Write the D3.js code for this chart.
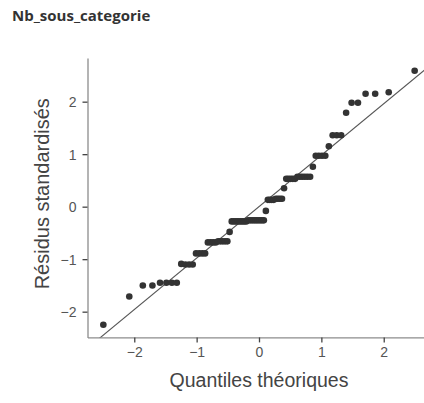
<!DOCTYPE html>
<html>
<head>
<meta charset="utf-8">
<script src="https://cdn.jsdelivr.net/npm/d3@7/dist/d3.min.js"></script>
<style>
  html, body { margin: 0; padding: 0; background: #fff; }
  svg { display: block; }
</style>
</head>
<body>
<script>
// Normal Q-Q plot of standardized residuals for Nb_sous_categorie
const chartTitle = "Nb_sous_categorie";
const xLabel = "Quantiles théoriques";
const yLabel = "Résidus standardisés";

// Theoretical quantiles (x) and standardized residuals (y)
const theoretical = [
  -2.496, -2.080, -1.863, -1.709, -1.587, -1.485, -1.397, -1.318,
  -1.247, -1.181, -1.120, -1.063, -1.010, -0.959, -0.910, -0.864,
  -0.820, -0.776, -0.735, -0.694, -0.655, -0.616, -0.579, -0.543,
  -0.507, -0.471, -0.437, -0.402, -0.369, -0.335, -0.302, -0.270,
  -0.237, -0.205, -0.174, -0.142, -0.110, -0.078, -0.047, -0.016,
   0.016,  0.047,  0.078,  0.110,  0.142,  0.174,  0.205,  0.237,
   0.270,  0.302,  0.335,  0.369,  0.402,  0.437,  0.471,  0.507,
   0.543,  0.579,  0.616,  0.655,  0.694,  0.735,  0.776,  0.820,
   0.864,  0.910,  0.959,  1.010,  1.063,  1.120,  1.181,  1.247,
   1.318,  1.397,  1.485,  1.587,  1.709,  1.863,  2.080,  2.496
];
const residuals = [
  -2.25, -1.71, -1.50, -1.50, -1.45, -1.45, -1.45, -1.45,
  -1.09, -1.10, -1.10, -1.10, -0.89, -0.89, -0.89, -0.89,
  -0.68, -0.68, -0.68, -0.68, -0.66, -0.66, -0.66, -0.66,
  -0.66, -0.48, -0.28, -0.28, -0.28, -0.28, -0.28, -0.28,
  -0.28, -0.28, -0.26, -0.26, -0.26, -0.26, -0.26, -0.26,
  -0.26, -0.26, -0.26, -0.08,  0.13,  0.13,  0.13,  0.13,
   0.15,  0.15,  0.15,  0.15,  0.35,  0.53,  0.53,  0.53,
   0.53,  0.53,  0.57,  0.57,  0.57,  0.57,  0.57,  0.57,
   0.76,  0.97,  0.97,  0.97,  0.97,  1.15,  1.36,  1.36,
   1.36,  1.79,  1.98,  1.98,  2.15,  2.15,  2.18,  2.59
];
const xTicks = [-2, -1, 0, 1, 2];
const yTicks = [-2, -1, 0, 1, 2];

// Reference line of the Q-Q plot
const lineSlope = 0.98;
const lineIntercept = 0.0;

const W = 424, H = 403;
const svg = d3.select("body").append("svg").attr("width", W).attr("height", H);

const x = d3.scaleLinear().domain([-2.75, 2.75]).range([87.5, 430.5]);
const y = d3.scaleLinear().domain([-2.49, 2.83]).range([337.4, 58.1]);

const plotLeft = x.range()[0], plotRight = x.range()[1];
const plotTop = y.range()[1], plotBottom = y.range()[0];

svg.append("defs").append("clipPath").attr("id", "panel")
  .append("rect")
  .attr("x", plotLeft).attr("y", plotTop)
  .attr("width", plotRight - plotLeft).attr("height", plotBottom - plotTop);

// Title
svg.append("text")
  .attr("x", 12).attr("y", 21)
  .attr("font-family", "'Open Sans', sans-serif")
  .attr("font-weight", "bold")
  .attr("font-size", 15)
  .attr("fill", "#333")
  .text(chartTitle);

// Axes
const axisFont = "'Liberation Sans', Arial, sans-serif";

const gx = svg.append("g").attr("transform", `translate(0,${plotBottom})`)
  .call(d3.axisBottom(x).tickValues(xTicks).tickSize(5).tickPadding(5)
    .tickFormat(d3.format("d")).tickSizeOuter(0));
const gy = svg.append("g").attr("transform", `translate(${plotLeft},0)`)
  .call(d3.axisLeft(y).tickValues(yTicks).tickSize(5).tickPadding(6)
    .tickFormat(d3.format("d")).tickSizeOuter(0));

[gx, gy].forEach(g => {
  g.select(".domain").attr("stroke", "#8c8c8c").attr("stroke-width", 1.3);
  g.selectAll(".tick line").attr("stroke", "#444").attr("stroke-width", 1.3);
  g.selectAll(".tick text")
    .attr("font-family", axisFont)
    .attr("font-size", 14)
    .attr("fill", "#555");
});
gx.selectAll(".tick text").attr("dy", "0.71em");
gy.selectAll(".tick text").attr("dy", "0.35em");

// Axis titles
svg.append("text")
  .attr("x", x(0)).attr("y", 387)
  .attr("text-anchor", "middle")
  .attr("font-family", axisFont)
  .attr("font-size", 19.5)
  .attr("fill", "#444")
  .text(xLabel);

svg.append("text")
  .attr("transform", `translate(49,${(plotTop + plotBottom) / 2 - 4}) rotate(-90)`)
  .attr("text-anchor", "middle")
  .attr("font-family", axisFont)
  .attr("font-size", 20)
  .attr("fill", "#444")
  .text(yLabel);

// Reference line
const xd = x.domain();
svg.append("line")
  .attr("clip-path", "url(#panel)")
  .attr("x1", x(xd[0])).attr("y1", y(lineIntercept + lineSlope * xd[0]))
  .attr("x2", x(xd[1])).attr("y2", y(lineIntercept + lineSlope * xd[1]))
  .attr("stroke", "#555")
  .attr("stroke-width", 1.1);

// Points
const pts = theoretical.map((t, i) => ({ t, r: residuals[i] }));
svg.append("g").selectAll("circle").data(pts).join("circle")
  .attr("cx", d => x(d.t))
  .attr("cy", d => y(d.r))
  .attr("r", 3.3)
  .attr("fill", "#333");
</script>
</body>
</html>
